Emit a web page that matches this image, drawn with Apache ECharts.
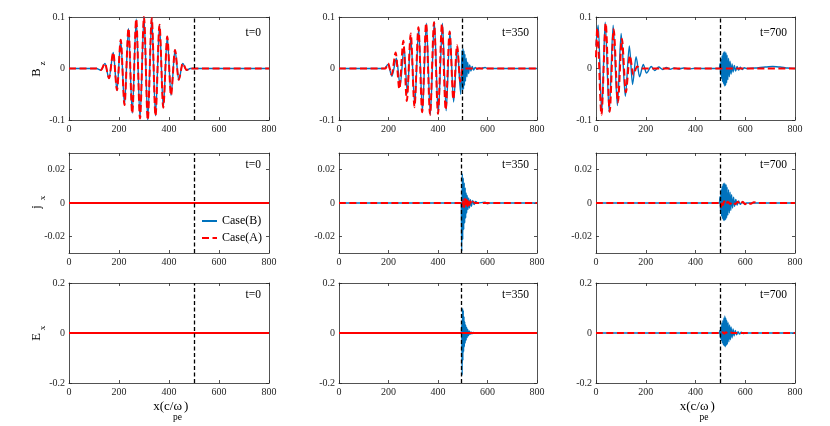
<!DOCTYPE html>
<html>
<head>
<meta charset="utf-8">
<title>Bz jx Ex</title>
<script src="https://cdn.jsdelivr.net/npm/echarts@6.0.0/dist/echarts.min.js"></script>
<style>
  html, body { margin: 0; padding: 0; background: #fff; }
  #main { width: 830px; height: 426px; }
</style>
</head>
<body>
<div id="main"></div>
<script>
// axes / labels
var xTicks = [0, 200, 400, 600, 800];
var times = ['t=0', 't=350', 't=700'];
var rowNames = [['B', 'z'], ['j', 'x'], ['E', 'x']];
var yRanges = [[-0.1, 0.1], [-0.03, 0.03], [-0.2, 0.2]];
var yTicks = [[-0.1, 0, 0.1], [-0.02, 0, 0.02], [-0.2, 0, 0.2]];
var interfaceX = [[500, 497, 500], [500, 493, 500], [500, 493, 500]];

// Bz, t=0 (both cases overlap)
var bzT0 = [[0,0],[110,0],[128,-0.003],[144,0.01],[160,-0.019],[177,0.031],[192,-0.042],[207,0.056],[222,-0.071],[238,0.078],[253,-0.087],[269,0.096],[284,-0.097],[300,0.1],[315,-0.1],[331,0.098],[346,-0.092],[362,0.085],[377,-0.076],[393,0.062],[408,-0.052],[424,0.036],[439,-0.022],[455,0.01],[470,-0.003],[485,0],[800,0]];

// Bz, t=350
var bzB350 = [[0,0],[185,0],[198,0.008],[214,-0.015],[232,0.02],[247,-0.033],[263,0.042],[276,-0.048],[290,0.06],[306,-0.07],[322,0.078],[337,-0.084],[353,0.088],[369,-0.09],[385,0.091],[401,-0.088],[418,0.088],[433,-0.082],[448,0.071],[463,-0.065],[478,0.042],[492,-0.05],[497,0.035],[499,-0.042],[501,0.039],[503,-0.04],[505,0.034],[507,-0.033],[509,0.028],[511,-0.025],[514,0.02],[517,-0.016],[520,0.012],[524,-0.01],[528,0.007],[533,-0.005],[538,0.004],[544,-0.003],[550,0.002],[558,-0.0015],[566,0.001],[575,0],[590,0.002],[600,0],[800,0]];
var bzA350 = [[0,0],[188,0],[198,0.01],[213,-0.012],[229,0.031],[244,-0.04],[260,0.054],[274,-0.063],[290,0.068],[305,-0.075],[321,0.08],[336,-0.085],[352,0.088],[368,-0.09],[384,0.09],[400,-0.088],[416,0.086],[431,-0.08],[447,0.072],[462,-0.06],[477,0.045],[490,-0.025],[500,0],[800,0]];

// Bz, t=700
var bzB700 = [[0,0.045],[9,0.084],[23,-0.087],[37,0.09],[53,-0.085],[69,0.084],[86,-0.072],[101,0.068],[118,-0.054],[134,0.044],[147,-0.031],[161,0.023],[175,-0.016],[190,0.008],[203,-0.009],[222,0.004],[236,-0.004],[252,0.003],[268,-0.002],[283,0.002],[298,-0.0015],[315,0.0012],[332,-0.001],[352,0.001],[374,-0.0008],[398,0.0005],[425,0],[496,0],[499,0.01],[501,-0.012],[503,0.018],[505,-0.02],[507,0.025],[509,-0.026],[511,0.03],[513,-0.03],[515,0.033],[517,-0.034],[519,0.032],[521,-0.033],[523,0.03],[525,-0.028],[527,0.026],[530,-0.022],[533,0.02],[536,-0.016],[539,0.014],[543,-0.011],[547,0.009],[551,-0.007],[556,0.006],[561,-0.005],[567,0.004],[573,-0.003],[580,0.0025],[588,-0.002],[596,0.0015],[605,0],[640,0.001],[680,0.003],[710,0.004],[740,0.003],[770,0.001],[800,0]];
var bzA700 = [[0,0.022],[5,0.078],[22,-0.09],[39,0.088],[55,-0.084],[71,0.076],[88,-0.066],[104,0.058],[120,-0.046],[136,0.025],[150,-0.012],[165,0.004],[178,0],[800,0]];

// jx
var jxB0 = [[0,0],[800,0]];
var jxA0 = [[0,0],[800,0]];
var jxB350 = [[0,0],[494,0],[496,-0.029],[498,0.0176],[500,-0.022],[502,0.015],[504,-0.016],[506,0.012],[508,-0.012],[510,0.009],[512,-0.009],[514,0.006],[516,-0.006],[518,0.0045],[521,-0.004],[524,0.003],[527,-0.003],[531,0.002],[535,-0.002],[540,0.0015],[546,-0.001],[552,0.001],[560,0],[590,0.0005],[600,-0.0005],[610,0],[800,0]];
var jxA350 = [[0,0],[496,0],[500,-0.002],[503,0.002],[506,-0.0025],[509,0.0025],[512,-0.002],[515,0.002],[519,-0.0018],[523,0.0015],[527,-0.0012],[531,0.001],[536,-0.0008],[542,0.0006],[550,0],[800,0]];
var jxB700 = [[0,0],[496,0],[499,0.004],[501,-0.006],[503,0.008],[505,-0.008],[507,0.01],[509,-0.0095],[511,0.0115],[513,-0.0105],[515,0.012],[517,-0.0105],[519,0.0115],[521,-0.01],[523,0.011],[525,-0.009],[527,0.0095],[530,-0.0075],[533,0.008],[536,-0.006],[539,0.0065],[542,-0.0045],[545,0.005],[549,-0.003],[553,0.0035],[557,-0.002],[562,0.0022],[567,-0.0012],[573,0.0012],[580,-0.0008],[588,0.0006],[596,-0.0004],[605,0],[800,0]];
var jxA700 = [[0,0],[500,0],[503,-0.0025],[506,0.001],[510,-0.0012],[515,0.001],[522,-0.0008],[530,0.0008],[540,-0.0006],[550,0.0007],[560,-0.0006],[570,0.0008],[580,-0.0009],[590,0.0007],[600,-0.0008],[610,0.0006],[620,-0.0005],[635,0.0004],[650,0],[800,0]];

// Ex
var exB0 = [[0,0],[800,0]];
var exA0 = [[0,0],[800,0]];
var exB350 = [[0,0],[494,0],[496,0.03],[497.5,-0.168],[499,0.099],[500.5,-0.11],[502,0.09],[503.5,-0.075],[505,0.065],[506.5,-0.055],[508,0.045],[510,-0.04],[512,0.032],[514,-0.028],[516,0.022],[518,-0.018],[520,0.014],[523,-0.011],[526,0.008],[529,-0.006],[533,0.004],[537,-0.003],[542,0.002],[550,0],[800,0]];
var exA350 = [[0,0],[800,0]];
var exB700 = [[0,0],[496,0],[498,0.01],[500,-0.02],[502,0.025],[504,-0.03],[506,0.04],[508,-0.04],[510,0.05],[512,-0.048],[514,0.06],[516,-0.052],[518,0.068],[520,-0.055],[522,0.06],[524,-0.05],[526,0.05],[528,-0.045],[531,0.042],[534,-0.036],[537,0.032],[540,-0.027],[543,0.024],[547,-0.02],[551,0.016],[555,-0.012],[560,0.01],[565,-0.007],[571,0.005],[577,-0.004],[584,0.003],[592,-0.002],[600,0],[800,0]];
var exA700 = [[0,0],[505,0],[510,0.003],[516,-0.003],[522,0.003],[530,-0.002],[540,0.002],[550,0],[800,0]];

var panels = [
  [{b: bzT0, a: bzT0, solid: false}, {b: bzB350, a: bzA350, solid: false}, {b: bzB700, a: bzA700, solid: false}],
  [{b: jxB0, a: jxA0, solid: true}, {b: jxB350, a: jxA350, solid: false}, {b: jxB700, a: jxA700, solid: false}],
  [{b: exB0, a: exA0, solid: true}, {b: exB350, a: exA350, solid: true}, {b: exB700, a: exA700, solid: false}]
];

var FONT = 'Liberation Serif';
var AX = '#262626';
var colLeft = [69, 339, 596], colWidth = [200, 198, 199];
var rowTop = [17, 153, 283], rowHeight = [103, 100, 100];

function axisX(g, pos, labels) {
  return {
    type: 'value', gridIndex: g, position: pos, min: 0, max: 800, interval: 200,
    axisLine: {show: true, onZero: false, lineStyle: {color: AX, width: 0.8}},
    axisTick: {show: true, inside: true, length: 3, lineStyle: {color: AX, width: 0.8}},
    axisLabel: {show: labels, margin: 4, fontFamily: FONT, fontSize: 10, color: AX},
    splitLine: {show: false}
  };
}
function axisY(g, pos, labels, r) {
  return {
    type: 'value', gridIndex: g, position: pos, min: yRanges[r][0], max: yRanges[r][1],
    axisLine: {show: true, onZero: false, lineStyle: {color: AX, width: 0.8}},
    axisTick: {show: true, inside: true, length: 3, customValues: yTicks[r], lineStyle: {color: AX, width: 0.8}},
    axisLabel: {show: labels, margin: 4, fontFamily: FONT, fontSize: 10, color: AX,
      customValues: yTicks[r],
      formatter: function (v) { return String(+(+v).toFixed(3)); }},
    splitLine: {show: false}
  };
}

var grids = [], xAxes = [], yAxes = [], series = [], graphics = [];
for (var r = 0; r < 3; r++) {
  for (var c = 0; c < 3; c++) {
    var g = grids.length;
    var p = panels[r][c];
    grids.push({left: colLeft[c], top: rowTop[r], width: colWidth[c], height: rowHeight[r]});
    xAxes.push(axisX(g, 'bottom', true));
    xAxes.push(axisX(g, 'top', false));
    yAxes.push(axisY(g, 'left', true, r));
    yAxes.push(axisY(g, 'right', false, r));
    series.push({
      name: 'Case(B)', type: 'line', xAxisIndex: 2 * g, yAxisIndex: 2 * g,
      data: p.b, symbol: 'none', smooth: 0.3, smoothMonotone: 'x', z: 2,
      itemStyle: {color: '#0072BD'},
      lineStyle: {color: '#0072BD', width: 1.4},
      markLine: {
        silent: true, symbol: ['none', 'none'], label: {show: false},
        lineStyle: {color: '#000', type: [4, 2.5], width: 1.3},
        data: [{xAxis: interfaceX[r][c]}]
      }
    });
    series.push({
      name: 'Case(A)', type: 'line', xAxisIndex: 2 * g, yAxisIndex: 2 * g,
      data: p.a, symbol: 'none', smooth: 0.3, smoothMonotone: 'x', z: 3,
      itemStyle: {color: '#FF0000'},
      lineStyle: {color: '#FF0000', width: 2, type: p.solid ? 'solid' : [7, 3.5]}
    });
    // time tag
    graphics.push({
      type: 'text', x: colLeft[c] + colWidth[c] - 8, y: rowTop[r] + (r === 0 ? 16 : 12),
      style: {text: times[c], fontFamily: FONT, fontSize: 11.5, fill: '#000',
        textAlign: 'right', textVerticalAlign: 'middle'}
    });
  }
  // y axis names (rotated, with subscript)
  var cy = rowTop[r] + rowHeight[r] / 2;
  graphics.push({
    type: 'text', x: 37, y: cy + 4, rotation: Math.PI / 2,
    style: {text: rowNames[r][0], fontFamily: FONT, fontSize: 12.5, fill: '#000',
      textAlign: 'center', textVerticalAlign: 'middle'}
  });
  graphics.push({
    type: 'text', x: 43, y: cy - 5, rotation: Math.PI / 2,
    style: {text: rowNames[r][1], fontFamily: FONT, fontSize: 9, fill: '#000',
      textAlign: 'center', textVerticalAlign: 'middle'}
  });
}

// x axis titles under first and last column
[0, 2].forEach(function (c) {
  var mid = colLeft[c] + colWidth[c] / 2;
  graphics.push({type: 'text', x: mid + 13, y: 407,
    style: {text: 'x(c/\u03c9', fontFamily: FONT, fontSize: 13, fill: '#000', textAlign: 'right', textVerticalAlign: 'middle'}});
  graphics.push({type: 'text', x: mid + 4, y: 417,
    style: {text: 'pe', fontFamily: FONT, fontSize: 9.5, fill: '#000', textAlign: 'left', textVerticalAlign: 'middle'}});
  graphics.push({type: 'text', x: mid + 15, y: 407,
    style: {text: ')', fontFamily: FONT, fontSize: 13, fill: '#000', textAlign: 'left', textVerticalAlign: 'middle'}});
});

var chart = echarts.init(document.getElementById('main'));
chart.setOption({
  animation: false,
  backgroundColor: '#fff',
  grid: grids,
  xAxis: xAxes,
  yAxis: yAxes,
  legend: {
    data: ['Case(B)', 'Case(A)'], orient: 'vertical', left: 201, top: 215, padding: 0,
    itemWidth: 15, itemHeight: 12, itemGap: 5, selectedMode: false,
    itemStyle: {color: 'rgba(0,0,0,0)', borderWidth: 0, opacity: 0},
    textStyle: {fontFamily: FONT, fontSize: 12, color: '#000'}
  },
  series: series,
  graphic: graphics
});
</script>
</body>
</html>
